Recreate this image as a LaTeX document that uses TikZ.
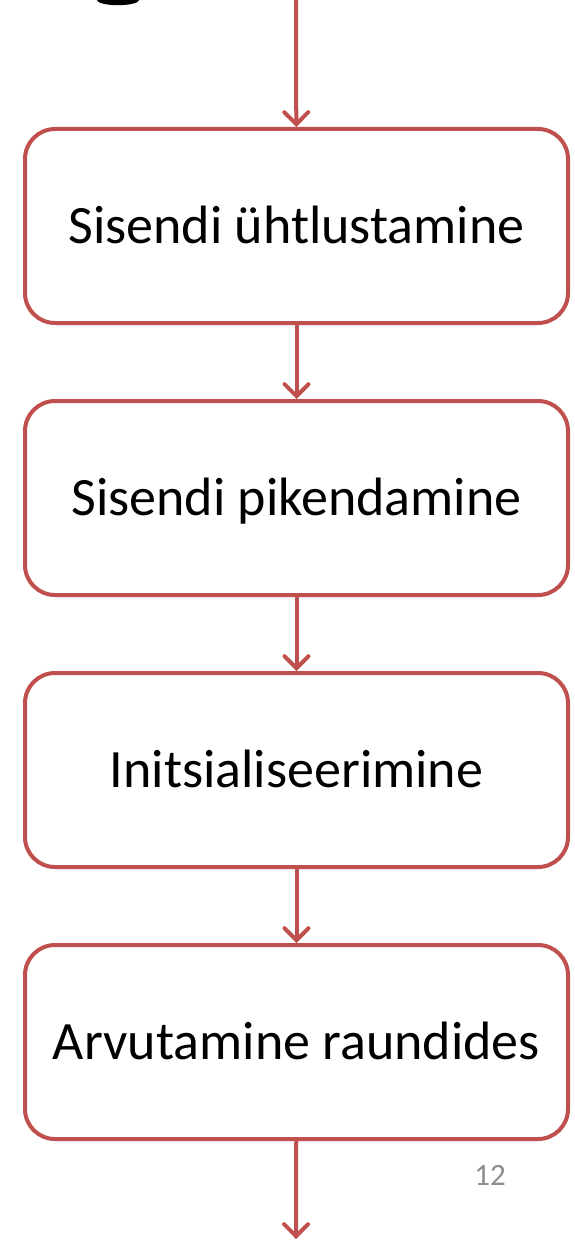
\documentclass[tikz,border=0pt]{standalone}
\usepackage{fontspec}
\setmainfont{Carlito}
\usepackage{xcolor}
\usetikzlibrary{positioning,arrows.meta}

\definecolor{boxred}{HTML}{C0504D}
\definecolor{pagegrey}{HTML}{8C8C8C}

\begin{document}
\begin{tikzpicture}[
		stepbox/.style={draw=boxred, line width=2pt, rounded corners=15pt,
			minimum width=271.5pt, minimum height=97pt,
			font=\fontsize{27}{30}\selectfont, text height=17.4pt, text depth=0pt},
		flow/.style={draw=boxred, line width=2pt,
			-{Straight Barb[length=6pt,width=12pt,line cap=round]}},
		node distance=37pt
		]
		% fix the page size
		\useasboundingbox (0,0) rectangle (287pt,-620.5pt);
		
		% draw the bottom of the cut title letter
		\begin{scope}
		\clip (0,0) rectangle (287pt,-620.5pt);
		\fill (59pt,0pt) ellipse (10.5pt and 2.6pt);
		\end{scope}
		
		% draw the four boxes
		\node[stepbox] (yhtlus) at (148.25pt,-113pt) {Sisendi ühtlustamine};
		\node[stepbox, below=of yhtlus] (pikend) {Sisendi pikendamine};
		\node[stepbox, below=of pikend] (init) {Initsialiseerimine};
		\node[stepbox, below=of init] (raund) {Arvutamine raundides};
		
		% the loose ends of the first and last arrow
		\coordinate (sisse) at (148pt,0pt);
		\coordinate (valja) at (148pt,-619.5pt);
		
		% draw the connecting arrows
		\draw[flow] (sisse) -- (yhtlus);
		\draw[flow] (yhtlus) -- (pikend);
		\draw[flow] (pikend) -- (init);
		\draw[flow] (init) -- (raund);
		\draw[flow] (raund) -- (valja);
		
		% page number
		\node[text=pagegrey, font=\fontsize{15.5}{18}\selectfont] (lk) at (245pt,-587.5pt) {12};
		\end{tikzpicture}
\end{document}
